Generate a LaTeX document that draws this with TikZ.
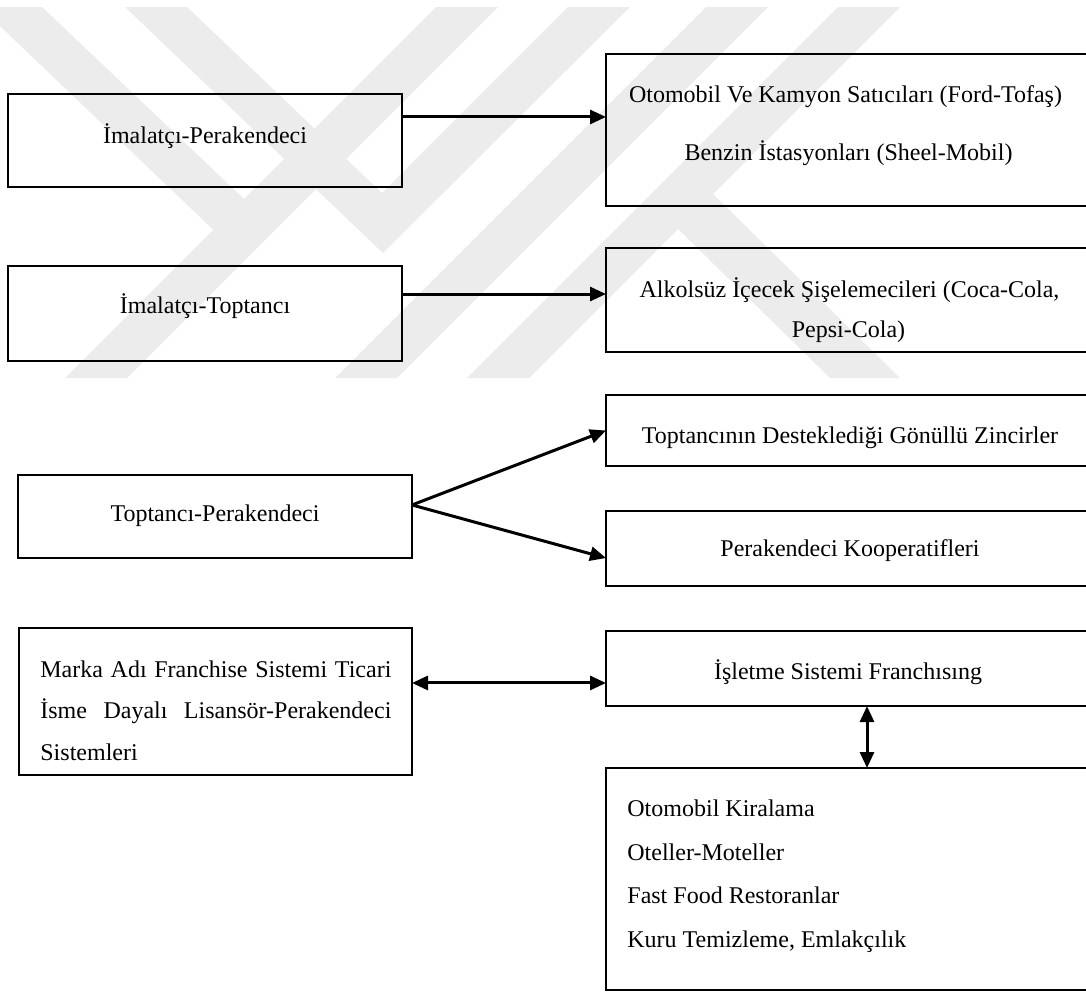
\documentclass[tikz,border=0pt]{standalone}
\usepackage{fontspec}
\setmainfont{Liberation Serif}
\usetikzlibrary{arrows.meta,calc}
\definecolor{wmgray}{gray}{0.925}
\begin{document}
\begin{tikzpicture}[x=0.5pt,y=-0.5pt,
  box/.style={draw=black,line width=1pt,rectangle,inner sep=0pt,outer sep=0pt},
  leftbox/.style={box,minimum width=197pt},
  rightbox/.style={box,minimum width=243pt},
  txt/.style={inner sep=0pt,anchor=base,font=\fontsize{12}{14}\selectfont},
  txtl/.style={txt,anchor=base west},
  arr/.style={line width=1.5pt,-{Triangle[length=8pt,width=7pt]}},
  arrboth/.style={line width=1.5pt,{Triangle[length=8pt,width=7pt]}-{Triangle[length=8pt,width=7pt]}},
  wm/.style={fill=wmgray}]

% page
\useasboundingbox (0,0) rectangle (1086,991);
\fill[white] (0,0) rectangle (1086,991);

% background emblem, light grey bands
\fill[wm] (-20,7) -- (42,7) -- (244,199) -- (245,260) -- cycle;
\fill[wm] (436,7) -- (498,7) -- (127,378) -- (65,378) -- cycle;
\fill[wm] (125,7) -- (187,7) -- (382,193) -- (568,7) -- (630,7) -- (383,253) -- cycle;
\fill[wm] (706,7) -- (768,7) -- (397,378) -- (335,378) -- cycle;
\fill[wm] (838,7) -- (900,7) -- (529,378) -- (467,378) -- cycle;
\fill[wm] (700,194) -- (713,194) -- (900,378) -- (830,378) -- (678,229) -- (660,229) -- cycle;

% left column
\node[leftbox,minimum height=46.5pt] (A) at (205,140.5) {};
\node[leftbox,minimum height=47.5pt] (C) at (205,313.5) {};
\node[leftbox,minimum height=41.5pt] (F) at (215,516.5) {};
\node[box,minimum width=196.5pt,minimum height=73.5pt] (H) at (215.5,701.5) {};

% right column
\node[rightbox,minimum height=76pt] (B) at (849,130) {};
\node[rightbox,minimum height=52pt] (D) at (849,300) {};
\node[rightbox,minimum height=35.5pt] (E) at (849,430.5) {};
\node[rightbox,minimum height=37.5pt] (G) at (849,548.5) {};
\node[rightbox,minimum height=37.5pt] (I) at (849,668.5) {};
\node[rightbox,minimum height=111pt] (J) at (849,879) {};

% labels
\node[txt] (tA) at (205,143) {İmalatçı-Perakendeci};
\node[txt] (tC) at (205,313) {İmalatçı-Toptancı};
\node[txt] (tF) at (215,521) {Toptancı-Perakendeci};
\node[txtl] (tH1) at (40,677) {\makebox[175.5pt][s]{Marka Adı Franchise Sistemi Ticari}};
\node[txtl] (tH2) at (40,718) {\makebox[175.5pt][s]{İsme Dayalı Lisansör-Perakendeci}};
\node[txtl] (tH3) at (40,760) {Sistemleri};

\node[txt] (tB1) at (845.5,102) {Otomobil Ve Kamyon Satıcıları (Ford-Tofaş)};
\node[txt] (tB2) at (848.5,160) {Benzin İstasyonları (Sheel-Mobil)};
\node[txt] (tD1) at (849.5,297) {Alkolsüz İçecek Şişelemecileri (Coca-Cola,};
\node[txt] (tD2) at (848.5,337) {Pepsi-Cola)};
\node[txt] (tE) at (850,443) {Toptancının Desteklediği Gönüllü Zincirler};
\node[txt] (tG) at (850,556) {Perakendeci Kooperatifleri};
\node[txt] (tI) at (848,679) {İşletme Sistemi Franchısıng};
\node[txtl] (tJ1) at (627,816) {Otomobil Kiralama};
\node[txtl] (tJ2) at (627,860) {Oteller-Moteller};
\node[txtl] (tJ3) at (627,903) {Fast Food Restoranlar};
\node[txtl] (tJ4) at (627,947) {Kuru Temizleme, Emlakçılık};

% connectors
\coordinate (a1) at ($(A.north east)!0.247!(A.south east)$);
\draw[arr] (a1) -- (a1 -| B.west);
\coordinate (c1) at ($(C.north east)!0.295!(C.south east)$);
\draw[arr] (c1) -- (c1 -| D.west);
\coordinate (f1) at ($(F.north east)!0.361!(F.south east)$);
\draw[arr] (f1) -- (E.west);
\draw[arr] (f1) -- ($(G.north west)!0.627!(G.south west)$);
\coordinate (h1) at ($(H.north east)!0.374!(H.south east)$);
\draw[arrboth] (h1) -- (h1 -| I.west);
\draw[arrboth] ([xshift=9pt]I.south) -- ([xshift=9pt]J.north);
\end{tikzpicture}
\end{document}
